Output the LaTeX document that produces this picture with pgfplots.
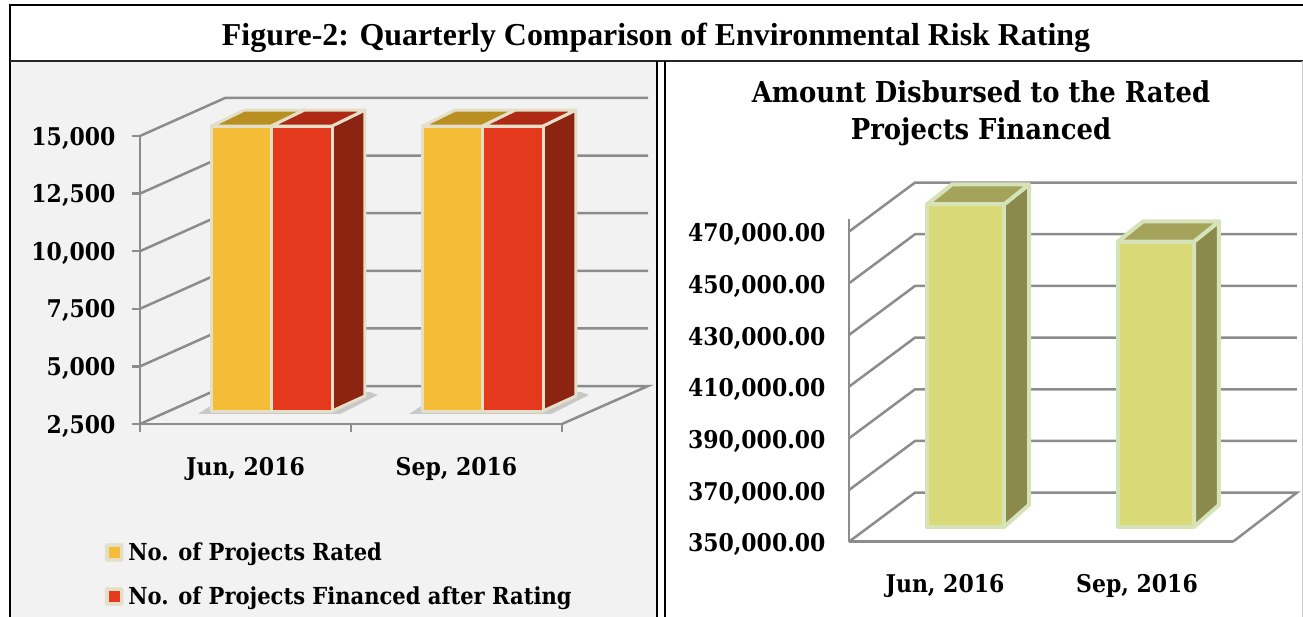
\documentclass[border=0pt]{standalone}
\usepackage{fontspec}
\usepackage{pgfplots}
\pgfplotsset{compat=1.18}
\setmainfont{DejaVu Serif Condensed}[BoldFont={* Bold}]
\newfontfamily\titlefont{Liberation Serif}[BoldFont={* Bold}]
\definecolor{gridc}{HTML}{8C8C8C}
\definecolor{yel}{HTML}{F5BD37}
\definecolor{yeltop}{HTML}{B98F22}
\definecolor{redf}{HTML}{E5391E}
\definecolor{redtop}{HTML}{AE2A14}
\definecolor{redside}{HTML}{8D2412}
\definecolor{edgeL}{HTML}{E3DFC8}
\definecolor{olv}{HTML}{D9D977}
\definecolor{olvtop}{HTML}{A3A35B}
\definecolor{olvside}{HTML}{8A8A4C}
\definecolor{edgeR}{HTML}{D6E2B8}
\definecolor{panel}{HTML}{F2F2F2}
\newcommand\lblfont{\fontsize{24.4}{28}\selectfont\bfseries}
\newcommand\legfont{\fontsize{23.4}{27}\selectfont\bfseries}
\newcommand\gridline[1]{\addplot[forget plot,gridc,line width=2.5pt] coordinates {#1};}
\newcommand\faceL[2]{\addplot[forget plot,fill=#1,draw=edgeL,line width=3pt,line join=round] coordinates {#2} -- cycle;}
\newcommand\faceR[2]{\addplot[forget plot,fill=#1,draw=edgeR,line width=4pt,line join=round] coordinates {#2} -- cycle;}
\newcommand\shadowL[1]{\addplot[forget plot,fill=gray!70,draw=none,opacity=.55] coordinates {#1} -- cycle;}
\pgfplotsset{
  common/.style={
    scale only axis, clip=false,
    axis x line*=bottom, axis y line*=left,
    axis line style={gridc,line width=2.5pt},
    tick style={gridc,line width=2.5pt},
    scaled y ticks=false,
    /pgf/number format/assume math mode=true,
    /pgf/number format/fixed,
    /pgf/number format/1000 sep={,},
    ticklabel style={font=\lblfont,text=black},
    xtick={0.5,1.5},
    xticklabels={{Jun, 2016},{Sep, 2016}},
    major x tick style={draw=none},
  },
}
\begin{document}
\begin{tikzpicture}[x=1pt,y=1pt]
\path[use as bounding box] (0,0) rectangle (1303,617);
\fill[panel] (10,0) rectangle (656,556);
\draw[black,line width=2pt] (9.5,0) -- (9.5,612) -- (1303,612);
\draw[black!85,line width=2pt] (9.5,556) -- (1303,556);
\draw[black,line width=2pt] (657,0) -- (657,556);
\draw[black,line width=2pt] (665,0) -- (665,556);
\draw[gray!40,line width=1pt] (1302.5,0) -- (1302.5,556);
\node[font=\titlefont\bfseries\fontsize{31.9}{36}\selectfont,anchor=center] at (656,579) {Figure-2: Quarterly Comparison of Environmental Risk Rating};
\node[font=\fontsize{28.75}{37}\selectfont\bfseries,align=center,anchor=center] at (981,504) {Amount Disbursed to the Rated\\Projects Financed};

% LEFT
\begin{axis}[common,
  at={(140pt,193pt)},anchor=south west,width=422pt,height=288pt,
  xmin=0,xmax=2,ymin=2500,ymax=15000,
  ytick={2500,5000,7500,10000,12500,15000},
  minor xtick={0,1,2},
  minor tick length=8pt,
  tick align=outside,
  major tick length=8pt,
  minor x tick style={gridc,line width=2.5pt},
  yticklabel style={xshift=-13pt,yshift=-2pt},
  xticklabel style={yshift=-22pt},
  legend style={at={(-0.083,-0.412)},anchor=north west,draw=none,fill=none,
    inner sep=0pt,outer sep=0pt,row sep=25pt,font=\legfont,
    nodes={inner sep=0pt,outer sep=0pt,anchor=west}},
  legend cell align=left,
]
% walls and floor
\gridline{(0,2500)(0.403,4149)(2.408,4149)(2,2500)}
\gridline{(0,5000)(0.403,6649)(2.408,6649)}
\gridline{(0,7500)(0.403,9149)(2.408,9149)}
\gridline{(0,10000)(0.403,11649)(2.408,11649)}
\gridline{(0,12500)(0.403,14149)(2.408,14149)}
\gridline{(0,15000)(0.403,16649)(2.408,16649)}
% Jun, 2016
\shadowL{(0.275,2934)(0.341,3325)(1.090,3889)(1.128,3759)(0.948,2934)}
\faceL{redside}{(0.910,3064)(1.066,3715)(1.066,16128)(0.910,15433)}
\faceL{yeltop}{(0.339,15433)(0.495,16128)(0.780,16128)(0.623,15433)}
\faceL{redtop}{(0.623,15433)(0.780,16128)(1.066,16128)(0.910,15433)}
\addplot[forget plot,fill=yel,draw=edgeL,line width=3pt,line join=round,y filter/.expression={y+564}] coordinates {(0.339,2500)(0.623,2500)(0.623,14869)(0.339,14869)} -- cycle;
\addplot[forget plot,fill=redf,draw=edgeL,line width=3pt,line join=round,y filter/.expression={y+564}] coordinates {(0.623,2500)(0.910,2500)(0.910,14869)(0.623,14869)} -- cycle;
% Sep, 2016
\shadowL{(1.275,2934)(1.341,3325)(2.090,3889)(2.128,3759)(1.948,2934)}
\faceL{redside}{(1.910,3064)(2.066,3715)(2.066,16128)(1.910,15433)}
\faceL{yeltop}{(1.339,15433)(1.495,16128)(1.780,16128)(1.623,15433)}
\faceL{redtop}{(1.623,15433)(1.780,16128)(2.066,16128)(1.910,15433)}
\addplot[forget plot,fill=yel,draw=edgeL,line width=3pt,line join=round,y filter/.expression={y+564}] coordinates {(1.339,2500)(1.623,2500)(1.623,14869)(1.339,14869)} -- cycle;
\addplot[forget plot,fill=redf,draw=edgeL,line width=3pt,line join=round,y filter/.expression={y+564}] coordinates {(1.623,2500)(1.910,2500)(1.910,14869)(1.623,14869)} -- cycle;
\addlegendimage{legend image code/.code={\fill[edgeL,rounded corners=1.5pt] (-1pt,-9pt) rectangle (17pt,9pt);\fill[yel] (3pt,-5pt) rectangle (13pt,5pt);}}
\addlegendentry{\hspace{5pt}No. of Projects Rated}
\addlegendimage{legend image code/.code={\fill[edgeL,rounded corners=1.5pt] (-1pt,-9pt) rectangle (17pt,9pt);\fill[redf] (3pt,-5pt) rectangle (13pt,5pt);}}
\addlegendentry{\hspace{5pt}No. of Projects Financed after Rating}
\end{axis}

% RIGHT
\begin{axis}[common,
  at={(849pt,75.3pt)},anchor=south west,width=384pt,height=323pt,
  xmin=0,xmax=2,ymin=350000,ymax=475000,
  ytick={350000,370000,390000,410000,430000,450000,470000},
  major y tick style={draw=none},
  major tick length=0pt,
  yticklabel style={/pgf/number format/fixed,/pgf/number format/fixed zerofill,/pgf/number format/precision=2,xshift=-20pt,yshift=-3pt},
  xticklabel style={yshift=-29pt},
]
\gridline{(0,350000)(0.344,368992)(2.333,368992)(2,350000)}
\gridline{(0,370000)(0.344,388992)(2.333,388992)}
\gridline{(0,390000)(0.344,408992)(2.333,408992)}
\gridline{(0,410000)(0.344,428992)(2.333,428992)}
\gridline{(0,430000)(0.344,448992)(2.333,448992)}
\gridline{(0,450000)(0.344,468992)(2.333,468992)}
\gridline{(0,470000)(0.344,488992)(2.333,488992)}
% Jun, 2016
\faceR{olvside}{(0.807,355698)(0.9375,364225)(0.9375,488257)(0.807,480505)}
\faceR{olvtop}{(0.406,480505)(0.536,488257)(0.9375,488257)(0.807,480505)}
\addplot[forget plot,fill=olv,draw=edgeR,line width=4pt,line join=round,y filter/.expression={y+5698}] coordinates {(0.406,350000)(0.807,350000)(0.807,474807)(0.406,474807)} -- cycle;
% Sep, 2016
\faceR{olvside}{(1.797,355698)(1.927,364225)(1.927,473916)(1.797,466164)}
\faceR{olvtop}{(1.401,466164)(1.531,473916)(1.927,473916)(1.797,466164)}
\addplot[forget plot,fill=olv,draw=edgeR,line width=4pt,line join=round,y filter/.expression={y+5698}] coordinates {(1.401,350000)(1.797,350000)(1.797,460466)(1.401,460466)} -- cycle;
\end{axis}
\end{tikzpicture}
\end{document}
